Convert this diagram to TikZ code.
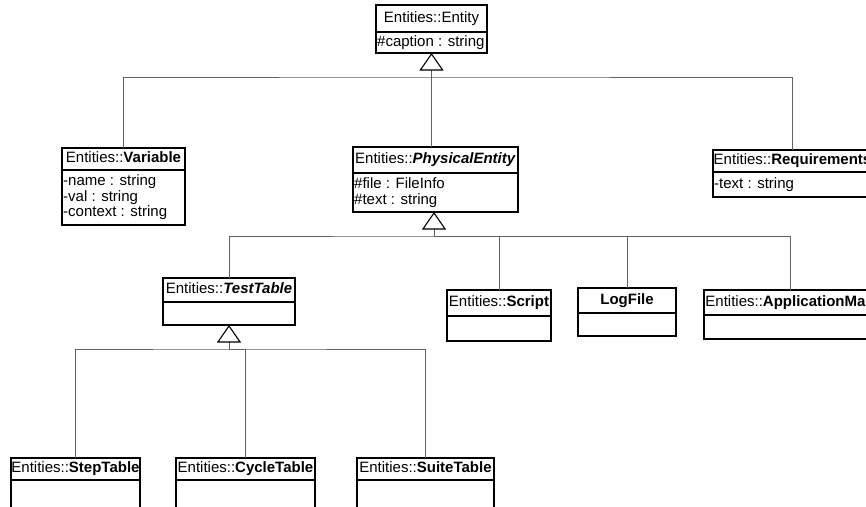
\documentclass[tikz,border=0pt]{standalone}
\usepackage{fontspec}
\setmainfont{Liberation Sans}
\usetikzlibrary{arrows.meta}

% class box: name, x1, y1, x2, y2, header line y, title
\newcommand\umlclass[7]{%
  \node[classbox, minimum width={(#4-#2)*1pt}, minimum height={(#5-#3)*1pt},
        anchor=north west] (#1) at (#2,#3) {};
  \draw[classline] (#2,#6) -- (#4,#6);
  \node[classtitle] (#1-title) at ({(#2+#4)/2},{(#3+#6)/2}) {#7};
}

\begin{document}
\begin{tikzpicture}[x=1pt, y=-1pt,
  font=\fontsize{15}{17}\selectfont,
  classbox/.style={draw=black, line width=1.1pt, fill=white, inner sep=0pt, outer sep=0pt},
  classline/.style={draw=black, line width=1.1pt},
  classtitle/.style={inner sep=0pt, text height=10.8pt, text depth=3pt},
  attr/.style={anchor=west, inner sep=0pt, text height=10.8pt, text depth=3pt},
  conn/.style={draw=black!62, line width=0.9pt},
  gen/.style={conn, -{Triangle[open, length=17.5pt, width=24pt, color=black, line width=1.1pt]}}]

\fill[white] (0,0) rectangle (866,506);
\clip (0,0) rectangle (866,506);

% top level
\umlclass{ent}{376}{5}{487}{53}{32}{Entities::Entity}
\node[attr] (ent-a1) at (377,42.5) {\#caption : string};

% second level
\umlclass{var}{62}{148}{185}{225}{170}{Entities::\textbf{Variable}}
\node[attr] (var-a1) at (63,182) {-name : string};
\node[attr] (var-a2) at (63,197.5) {-val : string};
\node[attr] (var-a3) at (63,213) {-context : string};

\umlclass{pe}{353}{147}{518}{212}{173}{Entities::\textbf{\textit{PhysicalEntity}}}
\node[attr] (pe-a1) at (354,185) {\#file : FileInfo};
\node[attr] (pe-a2) at (354,201) {\#text : string};

\umlclass{req}{713}{150}{872}{197}{172}{Entities::\textbf{Requirements}}
\node[attr] (req-a1) at (714,184.5) {-text : string};

% third level
\umlclass{tt}{163}{278}{295}{325}{302}{Entities::\textbf{\textit{TestTable}}}
\umlclass{sc}{447}{290}{551}{341}{316}{Entities::\textbf{Script}}
\umlclass{lf}{578}{288}{676}{336}{313}{\textbf{LogFile}}
\umlclass{am}{704}{290}{876}{339}{315}{Entities::\textbf{ApplicationMap}}

% fourth level
\umlclass{st}{11}{458}{140}{520}{480}{Entities::\textbf{StepTable}}
\umlclass{ct}{176}{458}{315}{520}{480}{Entities::\textbf{CycleTable}}
\umlclass{su}{357}{458}{494}{520}{480}{Entities::\textbf{SuiteTable}}

% generalisation buses
\coordinate (bus1) at (431.5,77);
\coordinate (bus2) at (434,236);
\coordinate (bus3) at (229,349);

\draw[gen] (bus1) -- (bus1 |- ent.south);
\draw[conn] (var.north) |- (bus1) -| (req.north);
\draw[conn] (bus1) -- (bus1 |- pe.north);

\draw[gen] (bus2) -- (bus2 |- pe.south);
\draw[conn] (tt.north) |- (bus2) -| (am.north);
\draw[conn] (sc.north) |- (bus2);
\draw[conn] (lf.north) |- (bus2);

\draw[gen] (bus3) -- (tt.south);
\draw[conn] (st.north) |- (bus3) -| (su.north);
\draw[conn] (ct.north) |- (bus3);

\end{tikzpicture}
\end{document}
